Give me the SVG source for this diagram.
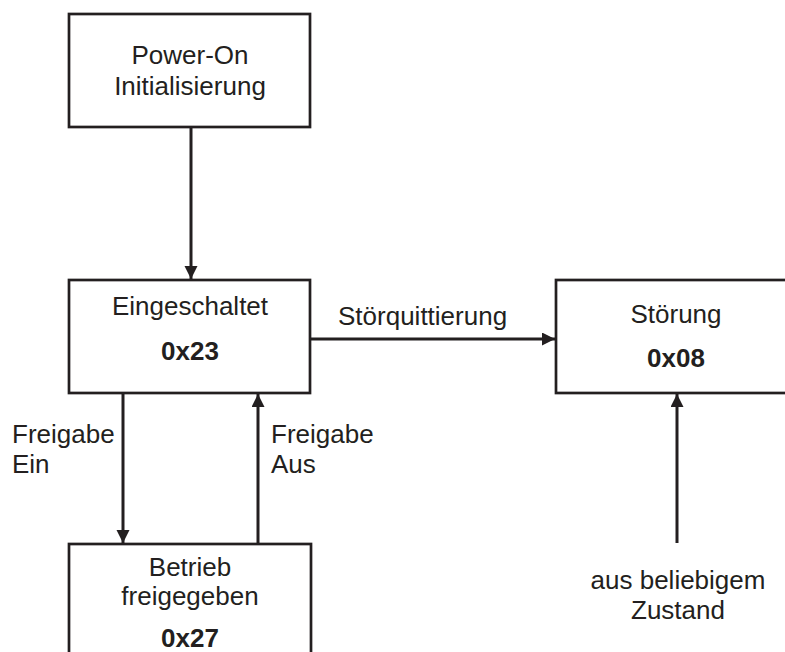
<svg xmlns="http://www.w3.org/2000/svg" width="785" height="652" viewBox="0 0 785 652">
<defs>
<marker id="arr" markerUnits="userSpaceOnUse" markerWidth="13" markerHeight="14" viewBox="0 0 13 14" refX="13" refY="6.5" orient="auto">
<path d="M0,0 L13,6.5 L0,13 Z" fill="#231f20"/>
</marker>
<style>
.box{fill:#fff;stroke:#231f20;stroke-width:2.7}
.t{font-family:"Liberation Sans",Arial,sans-serif;font-size:26px;fill:#231f20}
.c{text-anchor:middle}
.b{font-weight:bold}
.ln{stroke:#231f20;stroke-width:3;fill:none;marker-end:url(#arr)}
</style>
</defs>
<rect width="785" height="652" fill="#fff"/>
<g id="connectors">
<line class="ln" x1="191" y1="127" x2="191" y2="279"/>
<line class="ln" x1="310" y1="339" x2="555" y2="339"/>
<line class="ln" x1="123" y1="393" x2="123" y2="543"/>
<line class="ln" x1="258" y1="544" x2="258" y2="394"/>
<line class="ln" x1="677" y1="543" x2="677" y2="394"/>
<text class="t" x="338" y="325">Störquittierung</text>
<text class="t" x="12" y="443">Freigabe</text>
<text class="t" x="12" y="473">Ein</text>
<text class="t" x="271" y="443">Freigabe</text>
<text class="t" x="271" y="473">Aus</text>
<text class="t c" x="678" y="589">aus beliebigem</text>
<text class="t c" x="678" y="619">Zustand</text>
</g>
<g id="poweron">
<rect class="box" x="69" y="14" width="241" height="113"/>
<text class="t c" x="190" y="64">Power-On</text>
<text class="t c" x="190" y="95">Initialisierung</text>
</g>
<g id="eingeschaltet">
<rect class="box" x="69" y="280" width="241" height="113"/>
<text class="t c" x="190" y="315">Eingeschaltet</text>
<text class="t c b" x="190" y="360">0x23</text>
</g>
<g id="stoerung">
<rect class="box" x="556" y="280" width="250" height="113"/>
<text class="t c" x="676" y="323">Störung</text>
<text class="t c b" x="676" y="367">0x08</text>
</g>
<g id="betrieb">
<rect class="box" x="69" y="544" width="242" height="130"/>
<text class="t c" x="190" y="576">Betrieb</text>
<text class="t c" x="190" y="605">freigegeben</text>
<text class="t c b" x="190" y="647">0x27</text>
</g>
</svg>
